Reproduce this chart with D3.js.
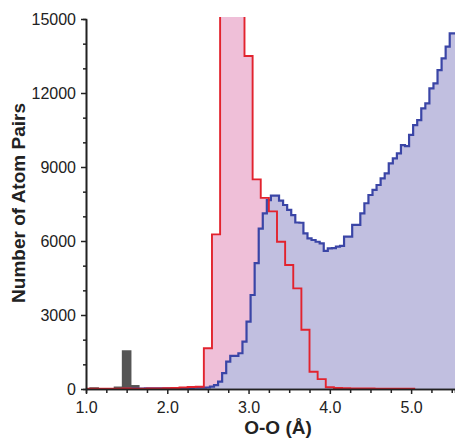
<!DOCTYPE html>
<html>
<head>
<meta charset="utf-8">
<script src="https://cdn.jsdelivr.net/npm/d3@7"></script>
<style>
  html, body { margin: 0; padding: 0; background: #fff; }
  svg { display: block; }
  text { font-family: "Liberation Sans", Arial, Helvetica, sans-serif; fill: #222; }
</style>
</head>
<body>
<svg id="chart" width="455" height="439"></svg>
<script>
// O-O pair distance histograms (counts per bin)

// Red histogram: 0.1 Å bins, first bin centred at 1.0 Å
const redStart = 1.0;
const redWidth = 0.1;
const redCounts = [
  10, 10, 10, 10, 15, 20, 15, 15, 20, 25,
  30, 40, 60, 80, 90, 1650, 6270, 17500, 21000, 19000,
  13500, 8500, 7750, 7200, 5970, 5030, 4080, 2400, 700, 400,
  70, 40, 30, 25, 20, 20, 15, 15, 10, 10,
  10
];

// Blue histogram: 0.05 Å bins, first bin centred at 1.5 Å
const blueStart = 1.5;
const blueWidth = 0.05;
const blueCounts = [
  10, 10, 15, 20, 20, 25, 25, 30, 30, 30,
  30, 30, 35, 35, 40, 40, 45, 50, 50, 55,
  60, 95, 160, 300, 640, 1110, 1340, 1340, 1450, 1920,
  2730, 3810, 5100, 6500, 7120, 7660, 7840, 7840, 7640, 7460,
  7260, 7050, 6750, 6740, 6310, 6110, 6040, 5970, 5900, 5600,
  5700, 5710, 5770, 5800, 6175, 6175, 6650, 6650, 7120, 7530,
  7865, 8070, 8270, 8540, 8745, 9150, 9350, 9555, 9890, 9850,
  10300, 10700, 10900, 11380, 11580, 12190, 12390, 12930, 13400, 13880,
  14420, 14420
];

// Grey bars: short-distance pairs
const greyCenters = [1.1, 1.4, 1.5, 1.6];
const greyCounts = [40, 70, 1540, 130];
const greyWidth = 0.1;

// Axis ticks
const xMajorTicks = [1.0, 2.0, 3.0, 4.0, 5.0];
const xMinorTicks = [1.25, 1.5, 1.75, 2.25, 2.5, 2.75, 3.25, 3.5, 3.75, 4.25, 4.5, 4.75, 5.25, 5.5];
const yMajorTicks = [0, 3000, 6000, 9000, 12000, 15000];
const yMinorTicks = [1000, 2000, 4000, 5000, 7000, 8000, 10000, 11000, 13000, 14000];

const svg = d3.select("#chart");
const x = d3.scaleLinear().domain([1.0, 5.54]).range([86, 455]);
const y = d3.scaleLinear().domain([0, 15000]).range([389, 19]);

svg.append("defs").append("clipPath").attr("id", "plotClip")
  .append("rect")
  .attr("x", x(1.0)).attr("y", y(15000) - 2)
  .attr("width", x(5.54) - x(1.0)).attr("height", y(0) - y(15000) + 2);

// Build step points from bin start/width/counts
function stepPoints(start, width, counts) {
  const pts = counts.map((v, i) => ({ e: start + i * width - width / 2, v }));
  pts.push({ e: start + counts.length * width - width / 2, v: counts[counts.length - 1] });
  return pts;
}

const redPts = stepPoints(redStart, redWidth, redCounts);
const bluePts = stepPoints(blueStart, blueWidth, blueCounts);

const area = d3.area().curve(d3.curveStepAfter)
  .x(d => x(d.e)).y0(y(0)).y1(d => y(d.v));
const line = d3.line().curve(d3.curveStepAfter)
  .x(d => x(d.e)).y(d => y(d.v));

const plot = svg.append("g").attr("clip-path", "url(#plotClip)");

plot.append("path").datum(redPts).attr("d", area)
  .attr("fill", "#efbfd8");
plot.append("path").datum(bluePts).attr("d", area)
  .attr("fill", "#c1bfe0");

plot.selectAll("rect.grey").data(greyCenters).join("rect")
  .attr("class", "grey")
  .attr("x", (c) => x(c - greyWidth / 2))
  .attr("width", x(greyWidth) - x(0))
  .attr("y", (c, i) => y(greyCounts[i]))
  .attr("height", (c, i) => y(0) - y(greyCounts[i]))
  .attr("fill", "#555")
  .attr("stroke", "#555")
  .attr("stroke-width", 1.5);

plot.append("path").datum(bluePts).attr("d", line)
  .attr("fill", "none").attr("stroke", "#3a45a6").attr("stroke-width", 2.2);
plot.append("path").datum(redPts).attr("d", line)
  .attr("fill", "none").attr("stroke", "#e2232e").attr("stroke-width", 1.9);

// Axes
function styleAxis(g) {
  g.select(".domain").attr("stroke", "#222").attr("stroke-width", 1.6);
  g.selectAll(".tick line").attr("stroke", "#222").attr("stroke-width", 1.5);
  g.selectAll(".tick text").style("font-size", "16px").attr("fill", "#222");
}

svg.append("g").attr("transform", `translate(0,${y(0)})`)
  .call(d3.axisBottom(x).tickValues(xMinorTicks).tickSize(4).tickFormat(""))
  .call(styleAxis);
svg.append("g").attr("transform", `translate(0,${y(0)})`)
  .call(d3.axisBottom(x).tickValues(xMajorTicks).tickSize(5).tickSizeOuter(0)
    .tickPadding(8).tickFormat(d3.format(".1f")))
  .call(styleAxis);

svg.append("g").attr("transform", `translate(${x(1.0)},0)`)
  .call(d3.axisLeft(y).tickValues(yMinorTicks).tickSize(3).tickFormat(""))
  .call(styleAxis);
svg.append("g").attr("transform", `translate(${x(1.0)},0)`)
  .call(d3.axisLeft(y).tickValues(yMajorTicks).tickSize(5).tickSizeOuter(0)
    .tickPadding(5).tickFormat(d3.format("d")))
  .call(styleAxis);

// Axis titles
svg.append("text")
  .attr("transform", "translate(25,203) rotate(-90)")
  .attr("text-anchor", "middle")
  .style("font-size", "19px").style("font-weight", "bold")
  .text("Number of Atom Pairs");

svg.append("text")
  .attr("x", 278).attr("y", 434)
  .attr("text-anchor", "middle")
  .style("font-size", "19px").style("font-weight", "bold")
  .text("O-O (Å)");
</script>
</body>
</html>
